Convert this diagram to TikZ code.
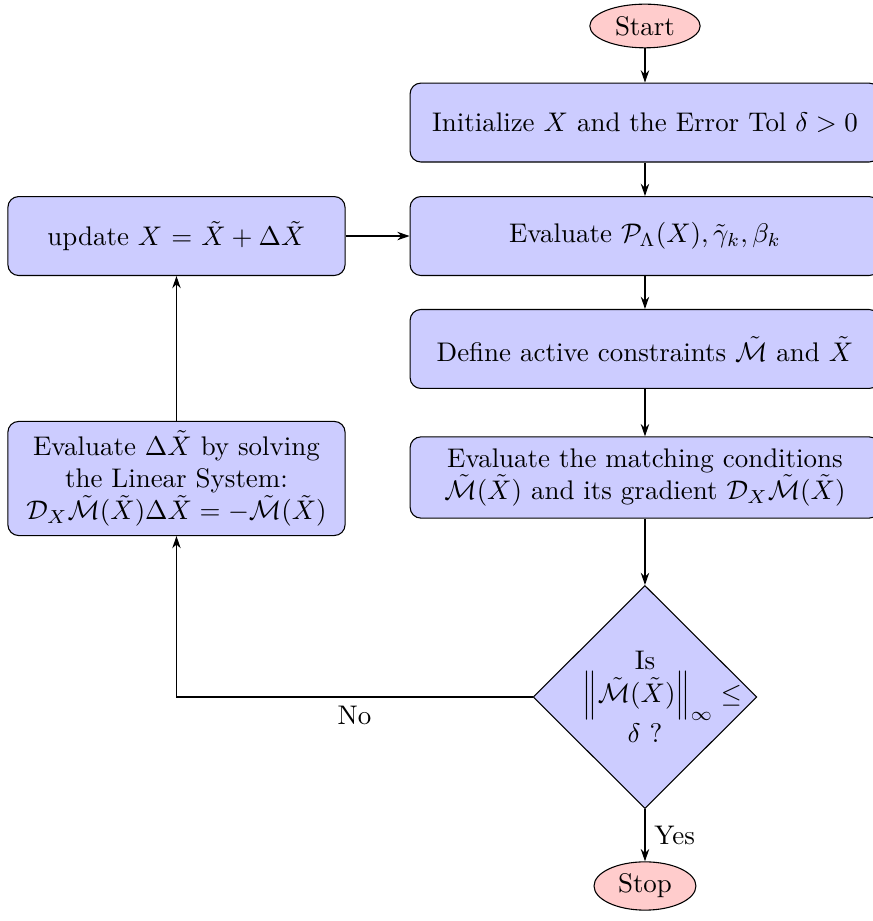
\documentclass[tikz,border=0pt]{standalone}
\usepackage{amsmath}
\usepackage{tikz}
\usetikzlibrary{arrows.meta,positioning,shapes.geometric,calc}
\tikzset{
  startstop/.style={ellipse,draw=black,fill=red!20,minimum width=1.44cm,minimum height=0.57cm,inner sep=1pt},
  proc/.style={draw=black,rounded corners=4pt,fill=blue!20,minimum width=6.13cm,minimum height=1.03cm,align=center},
  leftproc/.style={proc,minimum width=4.4cm},
  decision/.style={diamond,draw=black,fill=blue!20,minimum width=2.92cm,minimum height=2.91cm,inner sep=0pt,text width=1.62cm,align=center},
  arr/.style={-{Stealth[length=1.6mm,width=1.1mm]},draw=black,thin}
}
\begin{document}
\begin{tikzpicture}
\useasboundingbox (0,0) rectangle (11.38,-12.019);
\node[startstop] (start) at (8.417,-0.339) {Start};
\node[proc] (init) at (8.417,-1.599) {Initialize $X$ and the Error Tol $\delta > 0$};
\node[proc] (evalp) at (8.417,-3.08) {Evaluate $\mathcal{P}_\Lambda(X), \tilde{\gamma}_k, \beta_k$};
\node[proc] (define) at (8.417,-4.554) {Define active constraints $\tilde{\mathcal{M}}$ and $\tilde{X}$};
\node[proc,minimum height=1.06cm] (match) at (8.417,-6.231) {Evaluate the matching conditions\\ $\tilde{\mathcal{M}}(\tilde{X})$ and its gradient $\mathcal{D}_X\tilde{\mathcal{M}}(\tilde{X})$};
\node[decision] (check) at (8.417,-9.096) {Is $\left\|\tilde{\mathcal{M}}(\tilde{X})\right\|_\infty \leq \delta$ ?};
\node[startstop,minimum width=1.33cm,minimum height=0.63cm] (stop) at (8.417,-11.562) {Stop};
\node[leftproc] (update) at (2.303,-3.08) {update $X$ = $\tilde{X} + \Delta\tilde{X}$};
\node[leftproc,minimum height=1.475cm] (solve) at (2.303,-6.244) {Evaluate $\Delta\tilde{X}$ by solving\\ the Linear System:\\ $\mathcal{D}_X\tilde{\mathcal{M}}(\tilde{X})\Delta\tilde{X} = -\tilde{\mathcal{M}}(\tilde{X})$};

\draw[arr] (start) -- (init);
\draw[arr] (init) -- (evalp);
\draw[arr] (evalp) -- (define);
\draw[arr] (define) -- (match);
\draw[arr] (match) -- (check);
\draw[arr] (check) -- node[right] {Yes} (stop);
\draw[arr] (check.west) -| node[pos=0.25,below] {No} (solve.south);
\draw[arr] (solve) -- (update);
\draw[arr] (update) -- (evalp);
\end{tikzpicture}
\end{document}
